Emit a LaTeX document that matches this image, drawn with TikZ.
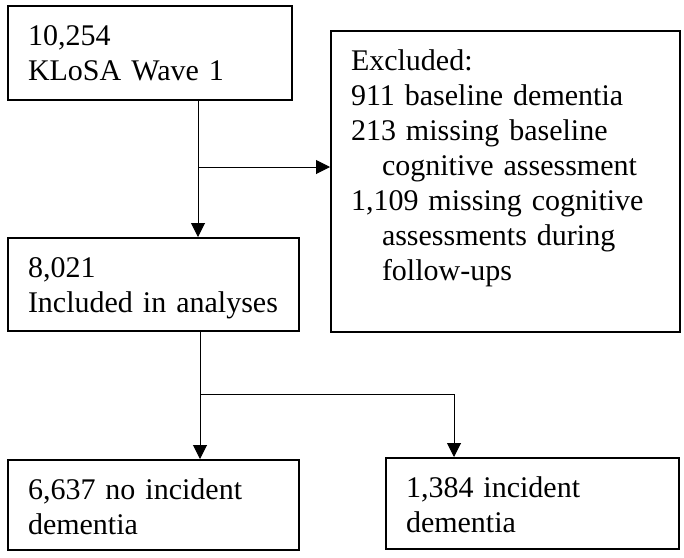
\documentclass[tikz,border=0pt]{standalone}
\usepackage{fontspec}
\setmainfont{Liberation Serif}
\usetikzlibrary{arrows.meta}
\begin{document}
\begin{tikzpicture}[x=1pt, y=-1pt,
        box/.style={draw, line width=2pt, anchor=north west, align=left,
            inner xsep=20pt, inner ysep=0pt, text height=39pt,
            font=\fontsize{30}{35}\selectfont},
        arr/.style={line width=1pt, -{Triangle[length=14pt, width=14pt]}}]
    \useasboundingbox (0,0) rectangle (684,557);
    % boxes
    \node[box, text width=244pt, text depth=55pt] (wave1) at (7,5) {10,254\\KLoSA Wave 1};
    \node[box, text width=309pt, text depth=262pt] (excl) at (330,30) {Excluded:\\911 baseline dementia\\213 missing baseline\\\hspace*{31pt}cognitive assessment\\1,109 missing cognitive\\\hspace*{31pt}assessments during\\\hspace*{31pt}follow-ups};
    \node[box, text width=251pt, text depth=54pt] (incl) at (7,237) {8,021\\Included in analyses};
    \node[box, text width=251pt, text depth=51pt] (noinc) at (7,459) {6,637 no incident\\dementia};
    \node[box, text width=253pt, text depth=52pt] (inc) at (385,457) {1,384 incident\\dementia};
    % connectors
    \coordinate (trunkA) at (198,0);
    \coordinate (splitA) at (198,167);
    \coordinate (trunkB) at (200,0);
    \coordinate (splitB) at (200,394);
    \coordinate (dropB) at (454,394);
    \draw[arr] (wave1.south -| trunkA) -- (incl.north -| trunkA);
    \draw[arr] (splitA) -- (splitA -| excl.west);
    \draw[arr] (incl.south -| trunkB) -- (noinc.north -| trunkB);
    \draw[arr] (splitB) -- (dropB) -- (inc.north -| dropB);
\end{tikzpicture}
\end{document}
